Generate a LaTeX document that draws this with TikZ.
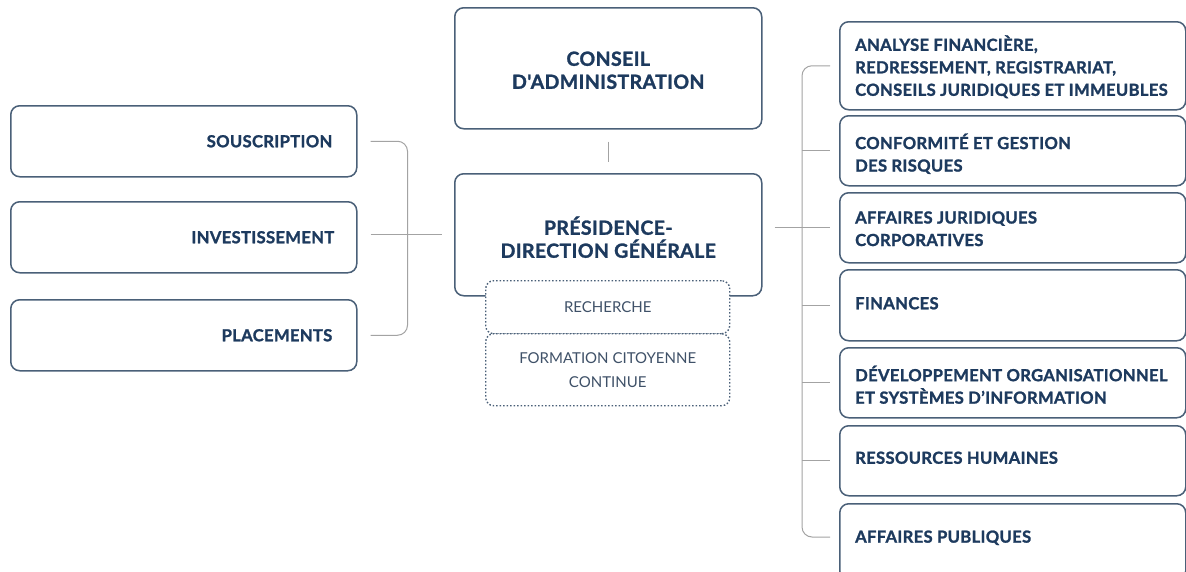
\documentclass[tikz,border=0pt]{standalone}
\usepackage{fontspec}
\setmainfont{Lato}
\newfontfamily\hvfont{Lato}[BoldFeatures={FakeBold=1.4,LetterSpace=2}]
\definecolor{navy}{HTML}{1D3A5E}
\definecolor{frame}{HTML}{4A6078}
\definecolor{conn}{HTML}{A3A3A3}
\definecolor{subtxt}{HTML}{3F5168}
\begin{document}
\begin{tikzpicture}[x=1pt,y=-1pt,
  box/.style={draw=frame, line width=1.5pt, rounded corners=9pt, fill=white, inner sep=0pt, anchor=north west},
  dotbox/.style={box, dotted, line width=1.4pt, rounded corners=8pt},
  link/.style={draw=conn, line width=1pt},
  lbl/.style={text=navy, font=\hvfont\bfseries\fontsize{16.6}{22.5}\selectfont, inner sep=0pt},
  title/.style={text=navy, font=\hvfont\bfseries\fontsize{19.5}{23}\selectfont, inner sep=0pt, align=center},
  subl/.style={text=subtxt, font=\hvfont\fontsize{15}{24}\selectfont, inner sep=0pt, align=center}]
\useasboundingbox (0,0) rectangle (1186,571);
\clip (0,0) rectangle (1186,571);
\fill[white] (0,0) rectangle (1186,571);

% left boxes
\node[box, minimum width=346pt, minimum height=71pt] (sous) at (10,105) {};
\node[box, minimum width=346pt, minimum height=71pt] (inv) at (10,201) {};
\node[box, minimum width=346pt, minimum height=71pt] (plac) at (10,299) {};
\node[lbl, anchor=east] (sousT) at ([xshift=-25pt]sous.east) {SOUSCRIPTION};
\node[lbl, anchor=east] (invT) at ([xshift=-23pt]inv.east) {INVESTISSEMENT};
\node[lbl, anchor=east] (placT) at ([xshift=-25pt]plac.east) {PLACEMENTS};

% centre boxes
\node[box, minimum width=307pt, minimum height=121pt] (cons) at (454,7) {};
\node[title] (consT) at ([yshift=-2pt]cons.center) {CONSEIL\\D'ADMINISTRATION};
\node[box, minimum width=307pt, minimum height=122pt] (pres) at (454,173) {};
\node[title] (presT) at ([yshift=-2.5pt]pres.center) {PRÉSIDENCE-\\DIRECTION GÉNÉRALE};
\node[dotbox, minimum width=244pt, minimum height=53pt] (rech) at (485,280) {};
\node[dotbox, minimum width=244pt, minimum height=72pt] (form) at (485,333) {};
\node[subl] (rechT) at (rech.center) {RECHERCHE};
\node[subl] (formT) at (form.center) {FORMATION CITOYENNE\\CONTINUE};

% right boxes
\node[box, minimum width=346pt, minimum height=88pt] (r1) at (839,21) {};
\node[box, minimum width=346pt, minimum height=70pt] (r2) at (839,115) {};
\node[box, minimum width=346pt, minimum height=70pt] (r3) at (839,192) {};
\node[box, minimum width=346pt, minimum height=71pt] (r4) at (839,269) {};
\node[box, minimum width=346pt, minimum height=70pt] (r5) at (839,347) {};
\node[box, minimum width=346pt, minimum height=70pt] (r6) at (839,425) {};
\node[box, minimum width=346pt, minimum height=76pt] (r7) at (839,503) {};
\node[lbl, anchor=west, align=left] (r1T) at ([xshift=16pt,yshift=-1pt]r1.west) {ANALYSE FINANCIÈRE,\\REDRESSEMENT, REGISTRARIAT,\\CONSEILS JURIDIQUES ET IMMEUBLES};
\node[lbl, anchor=west, align=left] (r2T) at ([xshift=16pt,yshift=-3pt]r2.west) {CONFORMITÉ ET GESTION\\DES RISQUES};
\node[lbl, anchor=west, align=left] (r3T) at ([xshift=16pt,yshift=-1pt]r3.west) {AFFAIRES JURIDIQUES\\CORPORATIVES};
\node[lbl, anchor=west] (r4T) at ([xshift=16pt,yshift=2pt]r4.west) {FINANCES};
\node[lbl, anchor=west, align=left] (r5T) at ([xshift=16pt,yshift=-2pt]r5.west) {DÉVELOPPEMENT ORGANISATIONNEL\\ET SYSTÈMES D’INFORMATION};
\node[lbl, anchor=west] (r6T) at ([xshift=16pt,yshift=3pt]r6.west) {RESSOURCES HUMAINES};
\node[lbl, anchor=west] (r7T) at ([xshift=16pt,yshift=4pt]r7.west) {AFFAIRES PUBLIQUES};

% connectors
\coordinate (lj) at ([xshift=13pt]inv.east);
\coordinate (r7c) at (830,537);
\draw[link, rounded corners=10pt] ([xshift=13pt]sous.east) -- ++(37,0) |- ([xshift=13pt]plac.east);
\draw[link] (lj |- pres.west) -- ([xshift=-12pt]pres.west);
\draw[link] ([yshift=-12pt]cons.south) -- ([yshift=11pt]pres.north);
\draw[link] ([xshift=12pt]pres.east |- r3.west) -- ([xshift=-9pt]r3.west);
\draw[link, rounded corners=10pt] ([xshift=-9pt]r1.west) -- ++(-28,0) |- (r7c);
\foreach \n in {r2,r4,r5,r6}
  \draw[link] ([xshift=-37pt]\n.west) -- ([xshift=-9pt]\n.west);
\end{tikzpicture}
\end{document}
